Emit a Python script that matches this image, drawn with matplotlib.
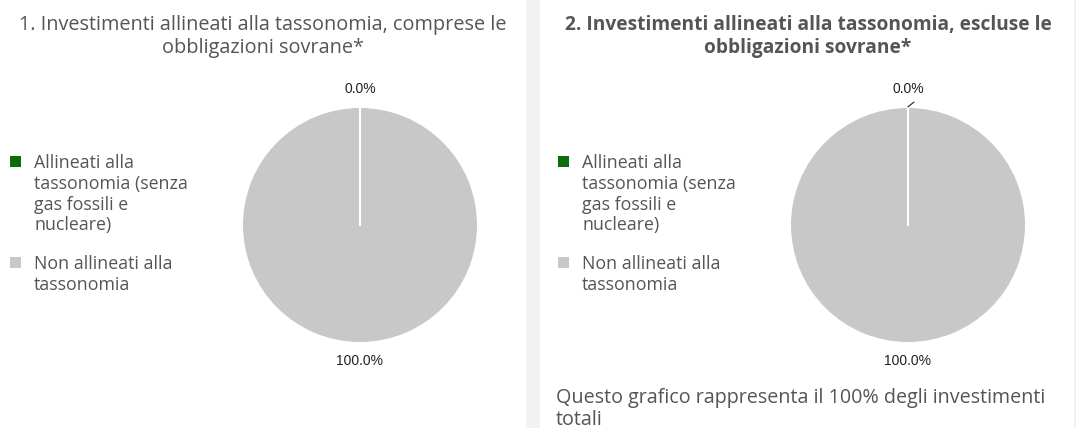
import matplotlib
matplotlib.use("Agg")
import matplotlib.pyplot as plt
import numpy as np
from matplotlib.patches import Rectangle

plt.rcParams["font.family"] = ["Open Sans", "DejaVu Sans"]

W, H = 1076, 428

# dati
CATEGORIES = ["Allineati alla\ntassonomia (senza\ngas fossili e\nnucleare)",
              "Non allineati alla\ntassonomia"]
COLORS = ["#0b6e0b", "#c8c8c8"]
INCL_SOVRANE = [0.0, 100.0]
ESCL_SOVRANE = [0.0, 100.0]
TITLES = ["1. Investimenti allineati alla tassonomia, comprese le\nobbligazioni sovrane*",
          "2. Investimenti allineati alla tassonomia, escluse le\nobbligazioni sovrane*"]
NOTE = "Questo grafico rappresenta il 100% degli investimenti\ntotali"

TXT = "#555555"


def fx(x):
    return x / W


def fy(y):
    return 1 - y / H


fig = plt.figure(figsize=(W / 100, H / 100), dpi=100)
fig.patch.set_facecolor("#f2f2f2")
# pannelli bianchi (sotto agli assi)
for x0, x1 in [(0, 526), (540, 1074)]:
    fig.patches.append(Rectangle((fx(x0), 0), fx(x1) - fx(x0), 1, transform=fig.transFigure,
                                 facecolor="white", edgecolor="none", zorder=-5))


def draw_panel(x0, tx, cx, values, title, bold, leader):
    fig.text(fx(tx), fy(15), title, ha="center", va="top",
             fontsize=13.8 if bold else 14.3, color=TXT,
             fontweight="bold" if bold else "normal", linespacing=1.2)
    # legenda
    for lab, col, y in zip(CATEGORIES, COLORS, [161, 262]):
        fig.patches.append(Rectangle((fx(x0 + 10), fy(y + 5.5)), 11 / W, 11 / H,
                                     transform=fig.transFigure, facecolor=col,
                                     edgecolor="none"))
        fig.text(fx(x0 + 34), fy(y - 7), lab, ha="left", va="top", fontsize=12.8,
                 color=TXT, linespacing=1.2)
    # torta
    r = 117
    ax = fig.add_axes([fx(cx - r), fy(225 + r), 2 * r / W, 2 * r / H])
    wedges, texts = ax.pie(values, colors=COLORS, startangle=90, counterclock=False,
                           labels=[f"{v:.1f}%" for v in values], labeldistance=1.16,
                           wedgeprops=dict(edgecolor="none"),
                           textprops=dict(fontsize=10, color="#222222",
                                          family=["Liberation Sans", "DejaVu Sans"]))
    for t in texts:
        t.set_ha("center")
    # bordo bianco della fetta allineata (angolo di partenza)
    th = np.deg2rad(wedges[0].theta1)
    ax.plot([0, np.cos(th)], [0, np.sin(th)], color="white", lw=1.5)
    ax.set_xlim(-1, 1)
    ax.set_ylim(-1, 1)
    ax.set_aspect("equal")
    if leader:
        ax.plot([np.cos(th), np.cos(th) + 0.05], [np.sin(th) + 0.01, np.sin(th) + 0.05],
                color="#222222", lw=0.8, clip_on=False)


draw_panel(0, 263, 360, INCL_SOVRANE, TITLES[0], False, False)
draw_panel(548, 808, 908, ESCL_SOVRANE, TITLES[1], True, True)

fig.text(fx(556), fy(388), NOTE, ha="left", va="top", fontsize=14.2, color=TXT,
         linespacing=1.12)

fig.savefig("out.png", dpi=100)
